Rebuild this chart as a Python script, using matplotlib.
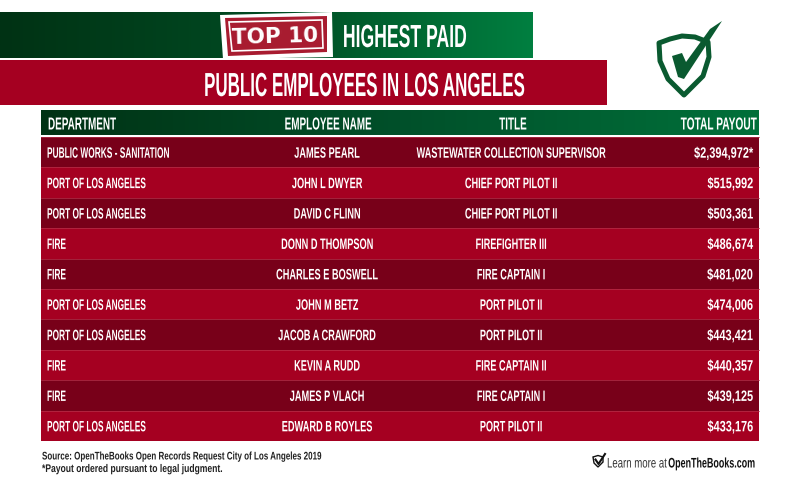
import numpy as np
import matplotlib
matplotlib.use("Agg")
import matplotlib.pyplot as plt
import matplotlib.patheffects as pe
from matplotlib.colors import LinearSegmentedColormap
from matplotlib.font_manager import FontProperties
from matplotlib.patches import Polygon, Rectangle
from matplotlib.text import Text
from matplotlib.textpath import TextPath
from matplotlib.transforms import Affine2D, Bbox

departments = ["PUBLIC WORKS - SANITATION", "PORT OF LOS ANGELES", "PORT OF LOS ANGELES", "FIRE", "FIRE",
               "PORT OF LOS ANGELES", "PORT OF LOS ANGELES", "FIRE", "FIRE", "PORT OF LOS ANGELES"]
names = ["JAMES PEARL", "JOHN L DWYER", "DAVID C FLINN", "DONN D THOMPSON", "CHARLES E BOSWELL",
         "JOHN M BETZ", "JACOB A CRAWFORD", "KEVIN A RUDD", "JAMES P VLACH", "EDWARD B ROYLES"]
titles = ["WASTEWATER COLLECTION SUPERVISOR", "CHIEF PORT PILOT II", "CHIEF PORT PILOT II", "FIREFIGHTER III",
          "FIRE CAPTAIN I", "PORT PILOT II", "PORT PILOT II", "FIRE CAPTAIN II", "FIRE CAPTAIN I", "PORT PILOT II"]
payouts = ["$2,394,972*", "$515,992", "$503,361", "$486,674", "$481,020",
           "$474,006", "$443,421", "$440,357", "$439,125", "$433,176"]
headers = ["DEPARTMENT", "EMPLOYEE NAME", "TITLE", "TOTAL PAYOUT"]

font = "Liberation Sans"
red = "#a50021"
dark_red = "#780019"
shield_green = "#0a5a30"
banner_cmap = LinearSegmentedColormap.from_list("b", ["#003214", "#004a22", "#007f40"])
header_cmap = LinearSegmentedColormap.from_list("h", ["#003214", "#00502a", "#00703a"])

fig = plt.figure(figsize=(8, 4.85), dpi=100)
ax = fig.add_axes([0, 0, 1, 1])


# no condensed font installed, so squeeze the glyphs sideways around the anchor
class Squeeze(pe.AbstractPathEffect):
    def __init__(self, sx, x0):
        super().__init__()
        self.sx = sx
        self.x0 = x0

    def draw_path(self, renderer, gc, tpath, affine, rgbFace=None):
        squeeze = Affine2D().translate(-self.x0, 0).scale(self.sx, 1).translate(self.x0, 0)
        gc.set_snap(False)  # snapping eats the thin stems of I
        renderer.draw_path(gc, tpath, affine + squeeze, rgbFace)


class NarrowText(Text):
    def __init__(self, x, y, s, sx, **kw):
        super().__init__(x, y, s, **kw)
        self.sx = sx
        self.set_path_effects([Squeeze(sx, x)])

    def get_window_extent(self, renderer=None, dpi=None):
        bb = super().get_window_extent(renderer, dpi)
        x0 = self.get_position()[0]
        return Bbox([[x0 + (bb.x0 - x0) * self.sx, bb.y0], [x0 + (bb.x1 - x0) * self.sx, bb.y1]])


def squeeze_for(sample, size, weight, width_px):
    prop = FontProperties(family=font, weight=weight)
    return width_px / (TextPath((0, 0), sample, size=size * 100 / 72, prop=prop).get_extents().width)


def narrow(x, y, s, size, sx, weight="bold", color="white", ha="left"):
    ax.add_artist(NarrowText(x, y, s, sx, color=color, fontsize=size, fontweight=weight, family=font,
                             ha=ha, va="center_baseline"))


def gradient(x0, x1, y0, y1, cmap):
    ax.imshow(np.linspace(0, 1, 256).reshape(1, -1), cmap=cmap, extent=(x0, x1, y1, y0), aspect="auto")


# banners
gradient(0, 533, 13, 58.5, banner_cmap)
gradient(41, 759, 112, 136.5, header_cmap)
ax.set_xlim(0, 800)
ax.set_ylim(485, 0)
ax.axis("off")
ax.add_patch(Rectangle((0, 60.5), 607, 45.5, color=red, lw=0))

# stamp
ax.add_patch(Polygon([[220, 16], [332, 13], [333, 58], [223, 60]], color="white", lw=0))
ax.add_patch(Polygon([[225, 19], [327, 17], [327, 53], [228, 57]], color="#a81c30", lw=0))
ax.add_patch(Polygon([[229, 23], [322, 21], [323, 49], [232, 52]], fill=False, ec="white", lw=1.2))
ax.text(275, 37, "TOP 10", color="white", fontsize=15.5, fontweight="bold", ha="center", va="center",
        rotation=1.5, family="DejaVu Sans")

narrow(405, 36.5, "HIGHEST PAID", 23, squeeze_for("HIGHEST PAID", 23, "bold", 122), ha="center")
narrow(364.5, 85, "PUBLIC EMPLOYEES IN LOS ANGELES", 24,
       squeeze_for("PUBLIC EMPLOYEES IN LOS ANGELES", 24, "bold", 319), ha="center")

# logo
ax.add_patch(Polygon([[659, 44], [670, 40], [682, 37], [695, 38], [708, 43], [709, 58], [703, 77], [684, 96],
                      [668, 80], [660, 62]], fill=False, ec=shield_green, lw=3.6, joinstyle="round"))
ax.add_patch(Polygon([[672, 57], [682, 54], [686, 63], [710, 30], [722, 22], [684, 80], [678, 78]],
                     color=shield_green, lw=0))

# table
head_sx = squeeze_for("EMPLOYEE NAME", 12.5, "bold", 86)
narrow(48, 124.5, headers[0], 12.5, head_sx)
narrow(328, 124.5, headers[1], 12.5, head_sx, ha="center")
narrow(513, 124.5, headers[2], 12.5, head_sx, ha="center")
narrow(757, 124.5, headers[3], 12.5, squeeze_for("TOTAL PAYOUT", 12.5, "bold", 76), ha="right")

top = 138
row_h = 30.4
dept_sx = squeeze_for(departments[1], 10.8, "bold", 98)
name_sx = squeeze_for(names[3], 10.8, "bold", 91)
title_sx = squeeze_for(titles[0], 10.8, "bold", 189)
pay_sx = squeeze_for(payouts[0], 10.8, "bold", 59)
for i in range(len(departments)):
    y = top + i * row_h
    ax.add_patch(Rectangle((41, y), 718, row_h, color=dark_red if i % 2 == 0 else red, lw=0))
    ax.plot([41, 759], [y, y], color="#b5324a", lw=0.5)
    ym = y + row_h / 2
    narrow(47, ym, departments[i], 10.8, dept_sx)
    narrow(327, ym, names[i], 10.8, name_sx, ha="center")
    narrow(511, ym, titles[i], 10.8, title_sx, ha="center")
    narrow(753, ym, payouts[i], 10.8, pay_sx, ha="right")

# footer
src = "Source: OpenTheBooks Open Records Request City of Los Angeles 2019"
note = "*Payout ordered pursuant to legal judgment."
narrow(42, 456.5, src, 8, squeeze_for(src, 8, "bold", 279), color="#222222")
narrow(42, 469, note, 8, squeeze_for(note, 8, "bold", 180), color="#222222")
narrow(607, 463, "Learn more at", 10, squeeze_for("Learn more at", 10, "normal", 59), weight="normal", color="#333333")
narrow(755, 463, "OpenTheBooks.com", 10, squeeze_for("OpenTheBooks.com", 10, "bold", 86), color="#111111", ha="right")
ax.add_patch(Polygon([[593, 458], [598, 456.5], [603, 458], [603, 463], [598, 468], [594, 464]],
                     fill=False, ec="#111111", lw=1))
ax.plot([595.5, 598.5, 605], [460.5, 465, 455], color="#111111", lw=1.5)

fig.savefig("out.png", dpi=100)
